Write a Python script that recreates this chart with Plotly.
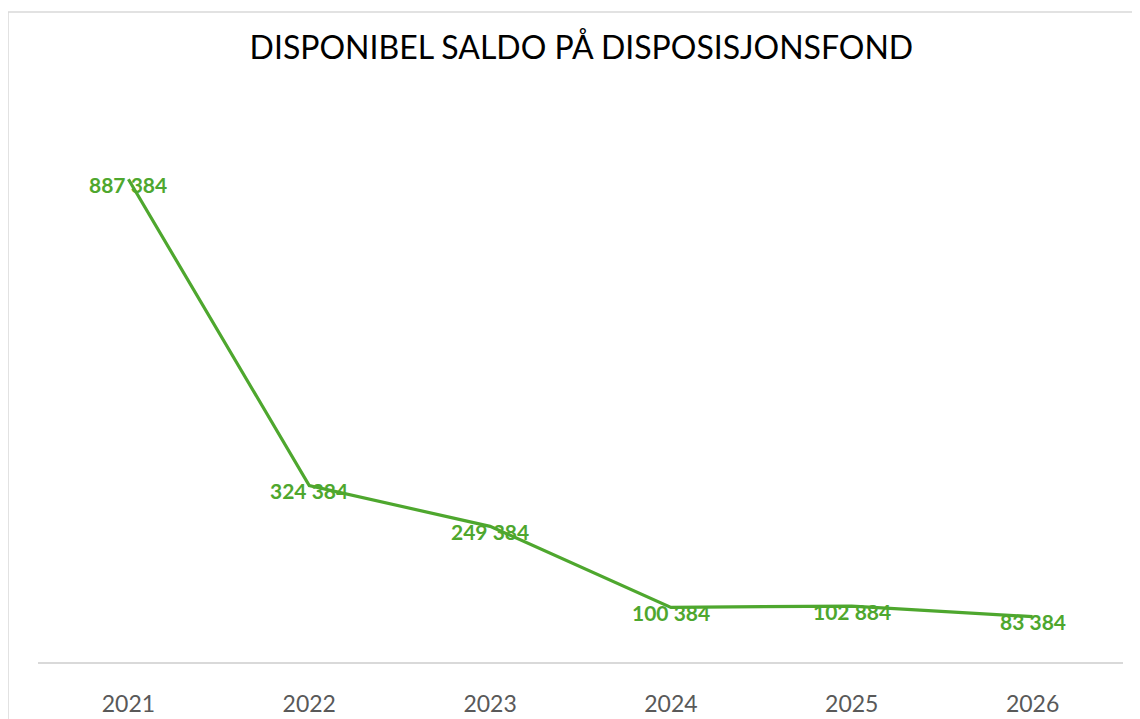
import plotly.graph_objects as go

# Data
years = ["2021", "2022", "2023", "2024", "2025", "2026"]
saldo = [887384, 324384, 249384, 100384, 102884, 83384]
labels = ["887 384", "324 384", "249 384", "100 384", "102 884", "83 384"]

GREEN = "#4EA72E"
GRID = "#D9D9D9"

fig = go.Figure()

fig.add_trace(go.Scatter(
    x=years,
    y=saldo,
    mode="lines",
    line=dict(color=GREEN, width=3.2),
    hoverinfo="skip",
    showlegend=False
))

# data labels sit a little below the points, like Excel's centred labels
# (category index is used for x, numeric-looking year strings confuse annotations)
for i, (value, label) in enumerate(zip(saldo, labels)):
    fig.add_annotation(
        x=i, y=value,
        text=label,
        showarrow=False,
        yshift=-5,
        font=dict(family="Lato", size=21, color=GREEN, weight="bold")
    )

# page puts the figure 8px in from the top-left, margins are set with that in mind
fig.update_layout(
    width=1140,
    height=719,
    margin=dict(t=110, b=65, l=30, r=25, autoexpand=False),
    paper_bgcolor="white",
    plot_bgcolor="white",
    title=dict(
        text="DISPONIBEL SALDO PÅ DISPOSISJONSFOND",
        x=0.503, xanchor="center",
        y=0.944, yanchor="middle",
        font=dict(family="Lato", size=32, color="#000000")
    )
)

fig.update_xaxes(
    type="category",
    range=[-0.5, 5.5],
    automargin=False,
    showgrid=False,
    showline=True,
    linecolor=GRID,
    linewidth=1.5,
    ticks="",
    tickfont=dict(family="Lato", size=23, color="#595959"),
    ticklabelstandoff=21
)

fig.update_yaxes(
    range=[0, 1000000],
    automargin=False,
    showgrid=False,
    zeroline=False,
    showticklabels=False,
    ticks=""
)

# light grey chart border (only the left and top edges fall inside the picture)
fig.add_shape(
    type="rect",
    xref="paper", yref="paper",
    x0=(0 - 30) / 1085, x1=1.05,
    y0=-0.2, y1=(654 - 4) / 544,
    line=dict(color=GRID, width=1.5),
    fillcolor="rgba(0,0,0,0)",
    layer="below"
)

fig.write_html("out.html")
